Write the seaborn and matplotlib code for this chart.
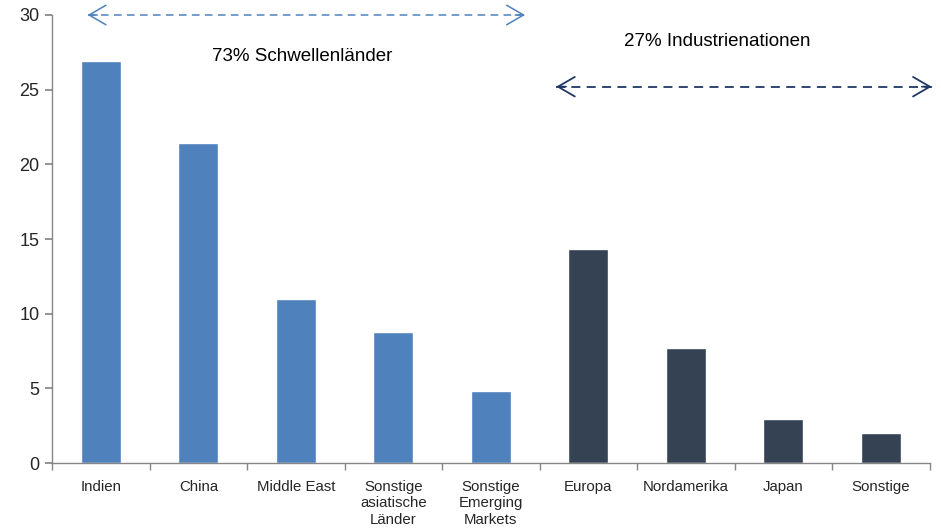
import numpy as np
import pandas as pd
import matplotlib
matplotlib.use('Agg')
import matplotlib.pyplot as plt
import seaborn as sns

# Chart data
regions = ['Indien', 'China', 'Middle East', 'Sonstige\nasiatische\nLänder',
           'Sonstige\nEmerging\nMarkets', 'Europa', 'Nordamerika', 'Japan', 'Sonstige']
shares = [26.9, 21.4, 11.0, 8.8, 4.8, 14.3, 7.7, 2.95, 2.0]
groups = ['Schwellenländer'] * 5 + ['Industrienationen'] * 4
y_ticks = [0, 5, 10, 15, 20, 25, 30]

df = pd.DataFrame({'region': regions, 'share': shares, 'group': groups})

sns.set_theme(style='white')
plt.rcParams['font.family'] = ['Liberation Sans', 'DejaVu Sans']

fig = plt.figure(figsize=(9.41, 5.28), dpi=100)
ax = fig.add_axes([0.0553, 0.123, 0.9327, 0.8486])

sns.barplot(data=df, x='region', y='share', hue='group', dodge=False,
            palette={'Schwellenländer': '#4F81BD', 'Industrienationen': '#344254'},
            saturation=1, width=0.41, legend=False, ax=ax)

ax.set_xlim(-0.5, len(regions) - 0.5)
ax.set_ylim(0, 30)
ax.set_yticks(y_ticks)
ax.set_xlabel('')
ax.set_ylabel('')

# axes styling
for side in ['top', 'right']:
    ax.spines[side].set_visible(False)
for side in ['left', 'bottom']:
    ax.spines[side].set_color('#868686')
    ax.spines[side].set_linewidth(1.0)

ax.tick_params(axis='y', left=True, length=5, color='#868686', labelsize=13, pad=4)
ax.set_xticks(range(len(regions)))
ax.set_xticklabels(regions, fontsize=10.8, linespacing=1.22)
ax.tick_params(axis='x', bottom=False, pad=6)
ax.set_xticks(np.arange(-0.5, len(regions), 1.0), minor=True)
ax.tick_params(axis='x', which='minor', bottom=True, length=5, color='#868686', direction='out')


def span_arrow(x0, x1, y, color, lw):
    # dashed shaft plus solid open heads at both ends
    ax.plot([x0, x1], [y, y], color=color, lw=lw, linestyle=(0, (5, 3.5)),
            clip_on=False, solid_capstyle='butt')
    for tip, tail in [(x0, x0 + 0.1), (x1, x1 - 0.1)]:
        ax.annotate('', xy=(tip, y), xytext=(tail, y),
                    arrowprops=dict(arrowstyle='->,head_length=0.55,head_width=0.32',
                                    color=color, lw=lw, shrinkA=0, shrinkB=0,
                                    mutation_scale=22),
                    annotation_clip=False)


# group annotations
span_arrow(-0.135, 4.35, 30, '#4F81BD', 1.1)
ax.text(2.07, 27.2, '73% Schwellenländer', ha='center', va='center', fontsize=13.5, color='black')

span_arrow(4.67, 8.52, 25.2, '#1F3864', 1.3)
ax.text(6.32, 28.2, '27% Industrienationen', ha='center', va='center', fontsize=13.5, color='black')

fig.savefig('out.png', dpi=100)
